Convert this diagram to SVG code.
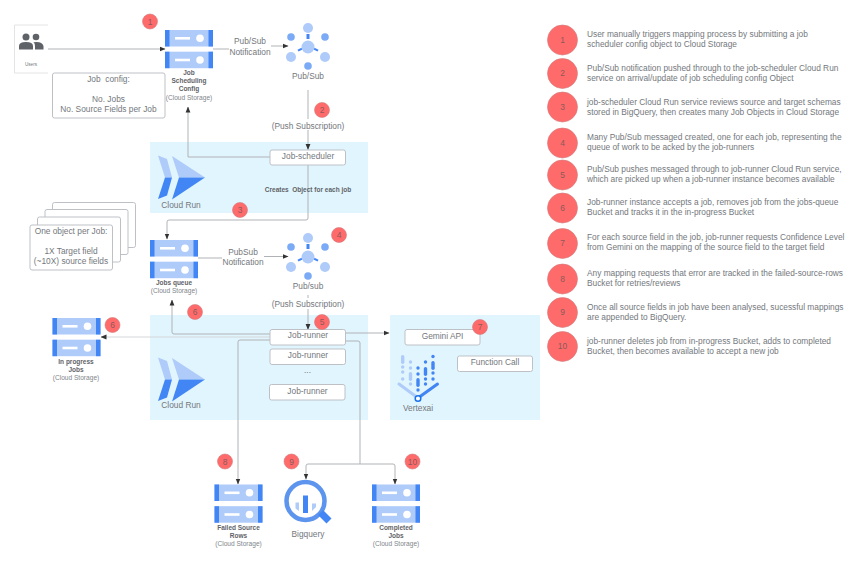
<svg xmlns="http://www.w3.org/2000/svg" width="863" height="562" viewBox="0 0 863 562">
<style>
text{font-family:"Liberation Sans",Arial,sans-serif;fill:#74787d;font-size:8.33px;white-space:pre}
.m{text-anchor:middle}
.b{font-weight:bold;font-size:6.5px;fill:#5f6368;text-anchor:middle}
.s{font-size:6.6px;fill:#80868b;text-anchor:middle}
.n{font-size:8.4px;fill:#8a5a5a;text-anchor:middle}
.panel{fill:#e1f5fe}
.box{fill:#fff;stroke:#bdc1c6;stroke-width:1}
.c{fill:none;stroke:#b0b3b6;stroke-width:1}
.a{marker-end:url(#ah)}
.dot{fill:#ff6b6b;stroke:#d0787a;stroke-width:.6}
.lt{fill:#aecbfa}.dk{fill:#4285f4}
</style>
<defs>
<marker id="ah" markerUnits="userSpaceOnUse" markerWidth="6" markerHeight="6" viewBox="0 0 6 6" refX="5.5" refY="3" orient="auto"><path d="M0,.6L6,3L0,5.4z" fill="#333"/></marker>
<g id="bucket"><rect width="48" height="16.5" class="lt"/><rect width="4.5" height="16.5" class="dk"/><rect x="43.5" width="4.5" height="16.5" class="dk"/><rect x="10" y="7" width="15" height="2.6" fill="#fff"/><circle cx="35" cy="8.2" r="3.8" fill="#fff"/><rect y="21.7" width="48" height="16.5" class="lt"/><rect y="21.7" width="4.5" height="16.5" class="dk"/><rect x="43.5" y="21.7" width="4.5" height="16.5" class="dk"/><rect x="10" y="28.7" width="15" height="2.6" fill="#fff"/><circle cx="35" cy="30" r="3.8" fill="#fff"/></g>
<g id="pubsub"><g class="dk"><rect x="-1.5" y="-13" width="3" height="5"/><path d="M-10.5,2.8l4-2l1,1.8l-4,2z"/><path d="M10.5,2.8l-4-2l-1,1.8l4,2z"/></g><g class="lt"><circle r="6.5"/><circle cy="-19" r="5"/><circle cx="-17" cy="10" r="5"/><circle cx="17" cy="10" r="5"/></g><g fill="#7baaf7"><circle cy="19" r="3.8"/><circle cx="-17" cy="-10" r="3.8"/><circle cx="17" cy="-10" r="3.8"/></g></g>
<g id="cloudrun"><path d="M158,155.500l9,3.500l5,18.500h-7z" class="lt"/><path d="M158,199l7,-21.500h7l-5,18z" class="dk"/><path d="M172,156l33,21.500h-26z" class="lt"/><path d="M172,199.500l7,-22h26z" class="dk"/></g>
</defs>

<rect width="863" height="562" fill="#fff"/>
<rect class="panel" x="150" y="142" width="218" height="71"/>
<rect class="panel" x="150" y="315" width="218" height="105"/>
<rect class="panel" x="390" y="315" width="150" height="105"/>

<g id="connectors">
<path class="c a" d="M48,49H165"/>
<path class="c a" d="M213,49H250V46H288"/>
<path class="c a" d="M308,90V149.500"/>
<path class="c a" d="M270,157H188V107"/>
<path class="c a" d="M308,165V218Q308,220 306,220H169Q167,220 167,222V239"/>
<path class="c a" d="M198,258H250V256.500H288"/>
<path class="c a" d="M308,295V329.500"/>
<path class="c a" d="M270,334H174Q172,334 172,332V300"/>
<path class="c a" style="stroke:#d5d7d9" d="M270,337H101"/>
<path class="c a" d="M270,340H240Q238,340 238,342V484"/>
<path class="c" d="M345.500,341H358Q360,341 360,343V464"/>
<path class="c a" d="M360,464H308Q306,464 306,466V479"/>
<path class="c a" d="M360,464H393Q395,464 395,466V484"/>
<path class="c a" d="M345.500,333H389"/>
<rect x="229" y="35" width="42" height="22" fill="#fff"/>
<rect x="222" y="246" width="42" height="22" fill="#fff"/>
<rect x="272" y="119" width="73" height="11" fill="#fff"/>
<rect x="272" y="298" width="73" height="11" fill="#fff"/>
</g>

<g id="users"><path d="M48,25H14.500V73H48" fill="#fff" stroke="#e4e4e4"/><circle cx="26" cy="37" r="3.500" fill="#5f6368"/><circle cx="36" cy="37" r="3.300" fill="#5f6368"/><path d="M19,49.500V46Q19,42 26,42T33,46V49.500z" fill="#5f6368"/><path d="M35,49.500V46Q35,43.500 33.500,42.300Q42,41 43.500,46V49.500z" fill="#5f6368"/><text class="m" x="31" y="66" style="font-size:4.600px">Users</text></g>

<g id="job-config"><rect class="box" x="52.500" y="73" width="112.500" height="45" rx="2"/><text class="m" x="108.500" y="82">Job  config:</text><text class="m" x="108.500" y="102">No. Jobs</text><text class="m" x="108.500" y="112">No. Source Fields per Job</text></g>

<g id="job-scheduling-config"><use href="#bucket" x="165" y="30"/><text class="b" x="189" y="75">Job</text><text class="b" x="189" y="83">Scheduling</text><text class="b" x="189" y="91">Config</text><text class="s" x="189" y="99.500">(Cloud Storage)</text></g>
<g id="pubsub-1"><use href="#pubsub" x="308" y="47"/><text class="m" x="308" y="79">Pub/Sub</text></g>
<text class="m" x="250" y="44">Pub/Sub</text><text class="m" x="250" y="54.500">Notification</text>
<text class="m" x="308" y="128.500">(Push Subscription)</text>

<g id="cloud-run-1"><use href="#cloudrun"/><text class="m" x="181" y="207.500">Cloud Run</text></g>
<g id="job-scheduler"><rect class="box" x="270" y="150" width="75.500" height="15" rx="2"/><text class="m" x="308" y="158.500">Job-scheduler</text></g>
<text class="b" x="308" y="192">Creates  Object for each job</text>

<g id="job-objects"><rect class="box" x="52.500" y="202.500" width="83" height="45" rx="2"/><rect class="box" x="45" y="209.500" width="83" height="45" rx="2"/><rect class="box" x="37.500" y="217" width="83" height="45" rx="2"/><rect class="box" x="30" y="225" width="82.500" height="45" rx="2"/><text class="m" x="71" y="234">One object per Job:</text><text class="m" x="71" y="254">1X Target field</text><text class="m" x="71" y="264">(~10X) source fields</text></g>

<g id="jobs-queue"><use href="#bucket" x="150" y="240"/><text class="b" x="174" y="285">Jobs queue</text><text class="s" x="174" y="293">(Cloud Storage)</text></g>
<g id="pubsub-2"><use href="#pubsub" x="308" y="257"/><text class="m" x="308" y="289">Pub/sub</text></g>
<text class="m" x="243" y="254.500">PubSub</text><text class="m" x="243" y="265">Notification</text>
<text class="m" x="308" y="307">(Push Subscription)</text>

<g id="in-progress"><use href="#bucket" x="52.500" y="318"/><text class="b" x="76" y="364">In progress</text><text class="b" x="76" y="372">Jobs</text><text class="s" x="76" y="380">(Cloud Storage)</text></g>

<g id="cloud-run-2"><use href="#cloudrun" y="202"/><text class="m" x="181" y="408">Cloud Run</text></g>
<g id="job-runner-1"><rect class="box" x="270" y="329.500" width="75.500" height="15.500" rx="2"/><text class="m" x="308" y="338">Job-runner</text></g>
<g id="job-runner-2"><rect class="box" x="270" y="349" width="75.500" height="15.500" rx="2"/><text class="m" x="308" y="357.500">Job-runner</text></g>
<text class="m" x="307.500" y="373">...</text>
<g id="job-runner-3"><rect class="box" x="269.500" y="384.500" width="75.500" height="15.500" rx="2"/><text class="m" x="307.500" y="393.500">Job-runner</text></g>

<g id="gemini"><rect class="box" x="405" y="329.500" width="75" height="15.500" rx="2"/><text class="m" x="442.500" y="338.500">Gemini API</text></g>
<g id="function-call"><rect class="box" x="457.500" y="356" width="75" height="15.500" rx="2"/><text class="m" x="495" y="365">Function Call</text></g>
<g id="vertexai">
<g fill="#aecbfa"><rect x="401" y="355" width="3.400" height="9" rx="1.700"/><circle cx="402.700" cy="367" r="1.700"/><circle cx="402.700" cy="372" r="1.700"/><circle cx="402.700" cy="379" r="1.700"/><circle cx="410.500" cy="362" r="1.700"/><circle cx="410.500" cy="368" r="1.700"/><rect x="408.800" y="372" width="3.400" height="9" rx="1.700"/><circle cx="410.500" cy="384" r="1.700"/></g>
<g fill="#4285f4"><circle cx="418" cy="368" r="1.700"/><circle cx="418" cy="374" r="1.700"/><rect x="416.300" y="378" width="3.400" height="9" rx="1.700"/><circle cx="418" cy="390" r="1.700"/><circle cx="425.500" cy="362" r="1.700"/><rect x="423.800" y="367" width="3.400" height="9" rx="1.700"/><circle cx="425.500" cy="379" r="1.700"/><circle cx="425.500" cy="384" r="1.700"/><circle cx="433" cy="356.500" r="1.700"/><rect x="431.300" y="361" width="3.400" height="9" rx="1.700"/><circle cx="433" cy="373" r="1.700"/><circle cx="433" cy="379" r="1.700"/></g>
<path d="M399,384L418,398" stroke="#aecbfa" stroke-width="3" stroke-linecap="round" fill="none"/><path d="M437.500,384L418,398" stroke="#4285f4" stroke-width="3" stroke-linecap="round" fill="none"/><circle cx="418" cy="398.500" r="2.800" fill="#fff" stroke="#1a73e8" stroke-width="1.500"/>
<text class="m" x="418" y="411">Vertexai</text></g>

<g id="failed-source-rows"><use href="#bucket" x="214.500" y="484.500"/><text class="b" x="238.500" y="530">Failed Source</text><text class="b" x="238.500" y="538">Rows</text><text class="s" x="238.500" y="546">(Cloud Storage)</text></g>
<g id="bigquery"><circle cx="305.500" cy="501" r="19" fill="none" stroke="#5c94ee" stroke-width="4.500"/><path d="M318,515l5,-5l8.500,8.500l-5,5z" class="dk"/><rect x="303" y="495.500" width="5" height="17.500" class="dk"/><path d="M295.500,502.500h3.500v8.500l-3.500,-2.500z" class="lt"/><path d="M312,503.500h4v3.500l-4,4z" class="lt"/><text class="m" x="308" y="537">Bigquery</text></g>
<g id="completed-jobs"><use href="#bucket" x="372" y="484.500"/><text class="b" x="396" y="530">Completed</text><text class="b" x="396" y="538">Jobs</text><text class="s" x="396" y="546">(Cloud Storage)</text></g>

<g id="badges">
<circle class="dot" cx="150" cy="21.500" r="7.500"/><text class="n" x="150" y="24.500">1</text>
<circle class="dot" cx="322" cy="110" r="7.500"/><text class="n" x="322" y="113">2</text>
<circle class="dot" cx="240" cy="210" r="7.500"/><text class="n" x="240" y="213">3</text>
<circle class="dot" cx="339" cy="235" r="7.500"/><text class="n" x="339" y="238">4</text>
<circle class="dot" cx="322" cy="322" r="7.500"/><text class="n" x="322" y="325">5</text>
<circle class="dot" cx="195" cy="312" r="7.500"/><text class="n" x="195" y="315">6</text>
<circle class="dot" cx="112.500" cy="325" r="7.500"/><text class="n" x="112.500" y="328">6</text>
<circle class="dot" cx="480" cy="327" r="7.500"/><text class="n" x="480" y="330">7</text>
<circle class="dot" cx="225" cy="461.500" r="7.500"/><text class="n" x="225" y="464.500">8</text>
<circle class="dot" cx="291.500" cy="461.500" r="7.500"/><text class="n" x="291.500" y="464.500">9</text>
<circle class="dot" cx="412.500" cy="461.500" r="7.500"/><text class="n" x="412.500" y="464.500">10</text>
</g>

<g id="legend">
<circle class="dot" cx="562.500" cy="40" r="15"/><text class="n" x="562.500" y="42.500">1</text>
<text x="587" y="37">User manually triggers mapping process by submitting a job</text><text x="587" y="47">scheduler config object to Cloud Storage</text>
<circle class="dot" cx="562.500" cy="73.500" r="15"/><text class="n" x="562.500" y="76">2</text>
<text x="587" y="71">Pub/Sub notification pushed through to the job-scheduler Cloud Run</text><text x="587" y="81">service on arrival/update of job scheduling config Object</text>
<circle class="dot" cx="562.500" cy="107" r="15"/><text class="n" x="562.500" y="109.500">3</text>
<text x="587" y="104.500">job-scheduler Cloud Run service reviews source and target schemas</text><text x="587" y="114.500">stored in BigQuery, then creates many Job Objects in Cloud Storage</text>
<circle class="dot" cx="562.500" cy="143" r="15"/><text class="n" x="562.500" y="145.500">4</text>
<text x="587" y="140">Many Pub/Sub messaged created, one for each job, representing the</text><text x="587" y="150">queue of work to be acked by the job-runners</text>
<circle class="dot" cx="562.500" cy="175" r="15"/><text class="n" x="562.500" y="177.500">5</text>
<text x="587" y="172">Pub/Sub pushes messaged through to job-runner Cloud Run service,</text><text x="587" y="182">which are picked up when a job-runner instance becomes available</text>
<circle class="dot" cx="562.500" cy="208" r="15"/><text class="n" x="562.500" y="210.500">6</text>
<text x="587" y="205">Job-runner instance accepts a job, removes job from the jobs-queue</text><text x="587" y="215">Bucket and tracks it in the in-progress Bucket</text>
<circle class="dot" cx="562.500" cy="243.500" r="15"/><text class="n" x="562.500" y="246">7</text>
<text x="587" y="240">For each source field in the job, job-runner requests Confidence Level</text><text x="587" y="250">from Gemini on the mapping of the source field to the target field</text>
<circle class="dot" cx="562.500" cy="279" r="15"/><text class="n" x="562.500" y="281.500">8</text>
<text x="587" y="276">Any mapping requests that error are tracked in the failed-source-rows</text><text x="587" y="286">Bucket for retries/reviews</text>
<circle class="dot" cx="562.500" cy="312.500" r="15"/><text class="n" x="562.500" y="315">9</text>
<text x="587" y="310">Once all source fields in job have been analysed, sucessful mappings</text><text x="587" y="320">are appended to BigQuery.</text>
<circle class="dot" cx="562.500" cy="346.500" r="15"/><text class="n" x="562.500" y="349">10</text>
<text x="587" y="343.500">job-runner deletes job from in-progress Bucket, adds to completed</text><text x="587" y="353.500">Bucket, then becomes available to accept a new job</text>
</g>
</svg>
